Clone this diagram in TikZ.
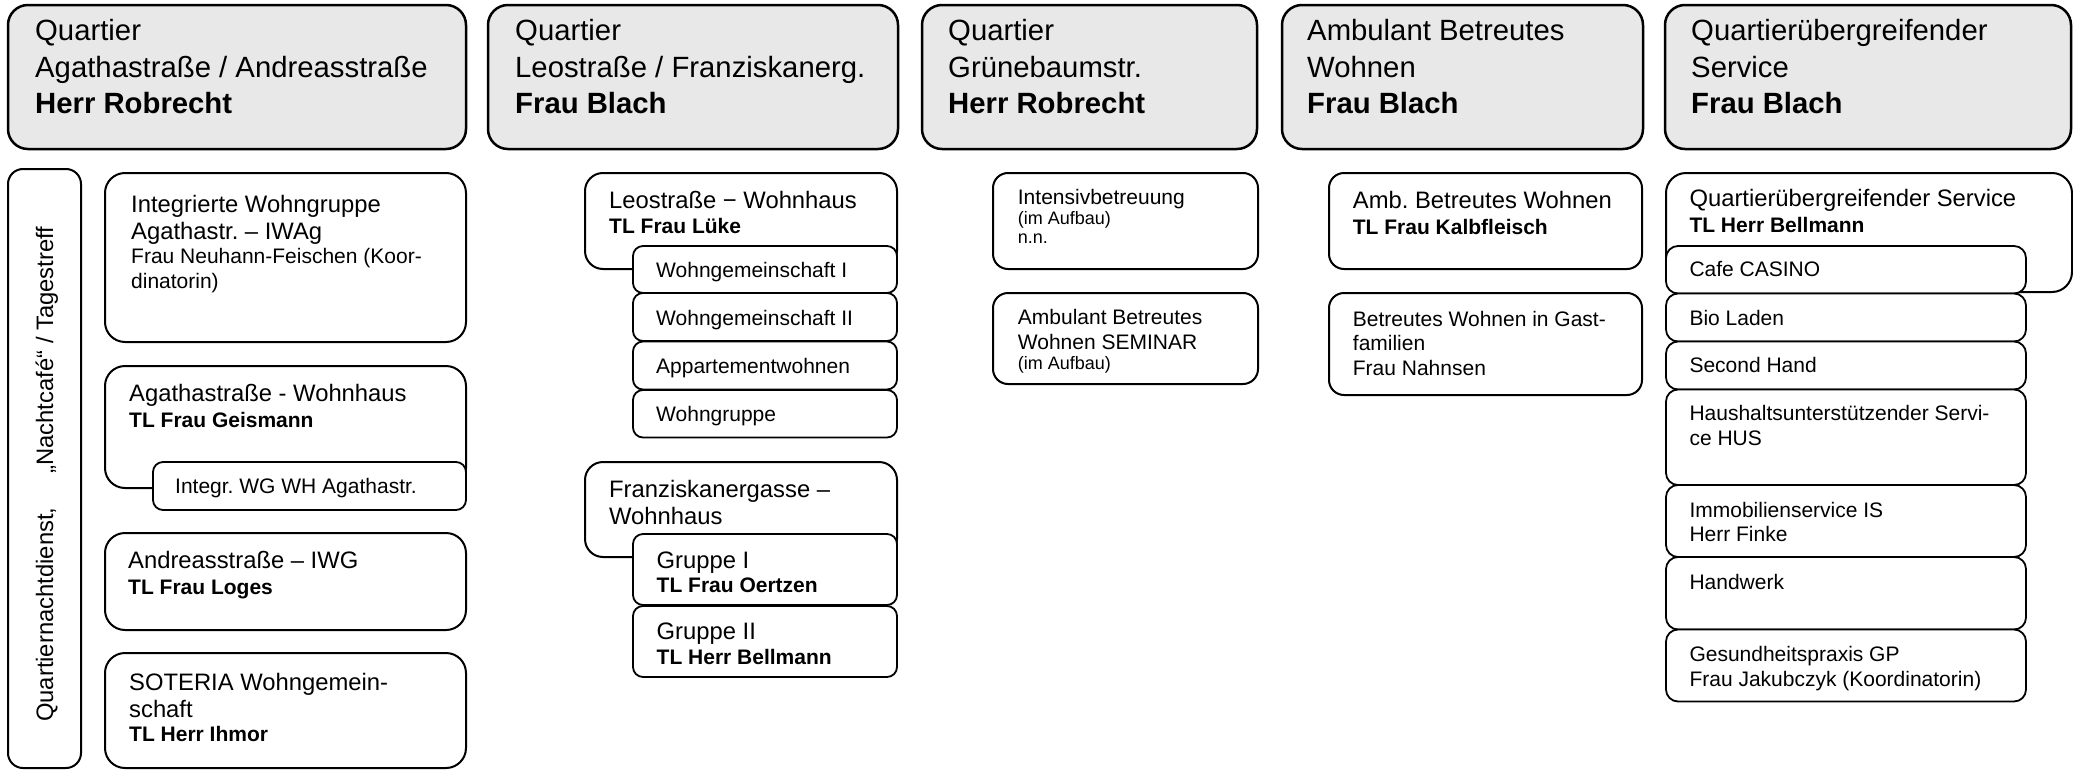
\documentclass[tikz,border=0pt]{standalone}
\usepackage{fontspec}
\setmainfont{Liberation Sans}
\frenchspacing
\newcommand\fH{\fontsize{29.3pt}{36.5pt}\selectfont}
\newcommand\fM{\fontsize{23.8pt}{27pt}\selectfont}
\newcommand\fS{\fontsize{21pt}{24.5pt}\selectfont}
\newcommand\fT{\fontsize{18pt}{19.5pt}\selectfont}
\definecolor{headgray}{RGB}{232,232,232}
\tikzset{
  head/.style={draw, line width=2.5pt, fill=headgray, rounded corners=20pt, inner sep=0pt, outer sep=0pt, anchor=north west},
  bigbox/.style={draw, line width=2pt, fill=white, rounded corners=20pt, inner sep=0pt, outer sep=0pt, anchor=north west},
  midbox/.style={bigbox, rounded corners=15pt},
  subbox/.style={draw, line width=1.8pt, fill=white, rounded corners=10pt, inner sep=0pt, outer sep=0pt, anchor=north west},
  htxt/.style={anchor=base west, align=left, inner sep=0pt, font=\fH},
  txt/.style={anchor=base west, align=left, inner sep=0pt, font=\fS},
  ttxt/.style={anchor=base west, align=left, inner sep=0pt, font=\fT},
}
\begin{document}
\begin{tikzpicture}[x=1pt, y=-1pt]
\useasboundingbox (0,0) rectangle (2073,771);
% ---------- headers (text anchored at last baseline) ----------
\node[head, minimum width=458pt, minimum height=144pt] (h1) at (8,5) {};
\node[htxt] (h1t) at (35,113.5) {Quartier\\Agathastraße / Andreasstraße\\\textbf{Herr Robrecht}};
\node[head, minimum width=410pt, minimum height=144pt] (h2) at (488,5) {};
\node[htxt] (h2t) at (515,113.5) {Quartier\\Leostraße / Franziskanerg.\\\textbf{Frau Blach}};
\node[head, minimum width=335pt, minimum height=144pt] (h3) at (922,5) {};
\node[htxt] (h3t) at (948,113.5) {Quartier\\Grünebaumstr.\\\textbf{Herr Robrecht}};
\node[head, minimum width=361pt, minimum height=144pt] (h4) at (1282,5) {};
\node[htxt] (h4t) at (1307,113.5) {Ambulant Betreutes\\Wohnen\\\textbf{Frau Blach}};
\node[head, minimum width=406pt, minimum height=144pt] (h5) at (1665,5) {};
\node[htxt] (h5t) at (1691,113.5) {Quartierübergreifender\\Service\\\textbf{Frau Blach}};
% ---------- column 1 ----------
\node[midbox, minimum width=73pt, minimum height=599pt] (nd) at (8,169) {};
\node[anchor=base west, inner sep=0pt, font=\fM, rotate=90] (ndt) at (53,722) {Quartiernachtdienst,\hspace{34pt}„Nachtcafé“ / Tagestreff};
\node[bigbox, minimum width=361pt, minimum height=169pt] (iwag) at (105,173) {};
\node[txt] (iwagt) at (131,288) {{\fM Integrierte Wohngruppe}\\[2.5pt]{\fM Agathastr. – IWAg}\\Frau Neuhann-Feischen (Koor-\\dinatorin)};
\node[bigbox, minimum width=361pt, minimum height=122pt] (agw) at (105,366) {};
\node[subbox, minimum width=313pt, minimum height=48pt] (agwg) at (153,462) {};
\node[txt] (agwt) at (129,427.5) {{\fM Agathastraße - Wohnhaus}\\[1.5pt]\textbf{TL Frau Geismann}};
\node[txt] (agwgt) at (175,493.3) {Integr. WG WH Agathastr.};
\node[bigbox, minimum width=361pt, minimum height=97pt] (andr) at (105,533) {};
\node[txt] (andrt) at (128,594.3) {{\fM Andreasstraße – IWG}\\[1.5pt]\textbf{TL Frau Loges}};
\node[bigbox, minimum width=361pt, minimum height=115pt] (sot) at (105,653) {};
\node[txt] (sott) at (129,741.5) {{\fM SOTERIA Wohngemein-}\\[2.5pt]{\fM schaft}\\\textbf{TL Herr Ihmor}};
% ---------- column 2 ----------
\node[bigbox, rounded corners=18pt, minimum width=312pt, minimum height=96pt] (leo) at (585,173) {};
\node[txt] (leot) at (609,233.3) {{\fM Leostraße − Wohnhaus}\\[0.5pt]\textbf{TL Frau Lüke}};
\node[subbox, minimum width=264pt, minimum height=47pt] (wg1) at (633,246) {};
\node[txt] (wg1t) at (656,277.7) {Wohngemeinschaft I};
\node[subbox, minimum width=264pt, minimum height=48pt] (wg2) at (633,293) {};
\node[txt] (wg2t) at (656,325.5) {Wohngemeinschaft II};
\node[subbox, minimum width=264pt, minimum height=48pt] (app) at (633,341.5) {};
\node[txt] (appt) at (656,373.3) {Appartementwohnen};
\node[subbox, minimum width=264pt, minimum height=47.5pt] (wgr) at (633,390) {};
\node[txt] (wgrt) at (656,421.5) {Wohngruppe};
\node[bigbox, rounded corners=18pt, minimum width=312pt, minimum height=95pt] (franz) at (585,462) {};
\node[txt] (franzt) at (609,524.5) {{\fM Franziskanergasse –}\\[2.5pt]{\fM Wohnhaus}};
\node[subbox, minimum width=264pt, minimum height=71pt] (gr1) at (633,534) {};
\node[txt] (gr1t) at (656.5,592.8) {{\fM Gruppe I}\\\textbf{TL Frau Oertzen}};
\node[subbox, minimum width=264pt, minimum height=71pt] (gr2) at (633,606) {};
\node[txt] (gr2t) at (656.5,664) {{\fM Gruppe II}\\\textbf{TL Herr Bellmann}};
% ---------- column 3 ----------
\node[midbox, minimum width=265pt, minimum height=96pt] (int) at (993,173) {};
\node[ttxt] (intt) at (1017.7,243.5) {{\fS Intensivbetreuung}\\(im Aufbau)\\n.n.};
\node[midbox, minimum width=265pt, minimum height=91pt] (sem) at (993,293) {};
\node[txt] (semt) at (1017.7,369) {Ambulant Betreutes\\[0.5pt]Wohnen SEMINAR\\[-5pt]{\fT (im Aufbau)}};
% ---------- column 4 ----------
\node[midbox, minimum width=313pt, minimum height=96pt] (amb) at (1329,173) {};
\node[txt] (ambt) at (1352.7,234) {{\fM Amb. Betreutes Wohnen}\\[1pt]\textbf{TL Frau Kalbfleisch}};
\node[midbox, minimum width=313pt, minimum height=102pt] (gast) at (1329,293) {};
\node[txt] (gastt) at (1352.7,375) {Betreutes Wohnen in Gast-\\familien\\Frau Nahnsen};
% ---------- column 5 ----------
\node[bigbox, minimum width=406pt, minimum height=119pt] (qs) at (1666,173) {};
\node[txt] (qst) at (1689.3,232.7) {{\fM Quartierübergreifender Service}\\[1.5pt]\textbf{TL Herr Bellmann}};
\node[subbox, rounded corners=12pt, minimum width=360pt, minimum height=47.5pt] (cafe) at (1666,246) {};
\node[txt] (cafet) at (1689.3,276.7) {Cafe CASINO};
\node[subbox, rounded corners=12pt, minimum width=360pt, minimum height=48pt] (bio) at (1666,293.5) {};
\node[txt] (biot) at (1689.3,325) {Bio Laden};
\node[subbox, rounded corners=12pt, minimum width=360pt, minimum height=48pt] (sec) at (1666,341.5) {};
\node[txt] (sect) at (1689.3,372.7) {Second Hand};
\node[subbox, rounded corners=12pt, minimum width=360pt, minimum height=95.5pt] (hus) at (1666,389.5) {};
\node[txt] (hust) at (1689.3,445) {Haushaltsunterstützender Servi-\\ce HUS};
\node[subbox, rounded corners=12pt, minimum width=360pt, minimum height=72pt] (imm) at (1666,485) {};
\node[txt] (immt) at (1689.3,541.8) {Immobilienservice IS\\Herr Finke};
\node[subbox, rounded corners=12pt, minimum width=360pt, minimum height=72.5pt] (hw) at (1666,557) {};
\node[txt] (hwt) at (1689.3,589.3) {Handwerk};
\node[subbox, rounded corners=12pt, minimum width=360pt, minimum height=72pt] (gp) at (1666,629.5) {};
\node[txt] (gpt) at (1689.3,686) {Gesundheitspraxis GP\\Frau Jakubczyk (Koordinatorin)};
\end{tikzpicture}
\end{document}
